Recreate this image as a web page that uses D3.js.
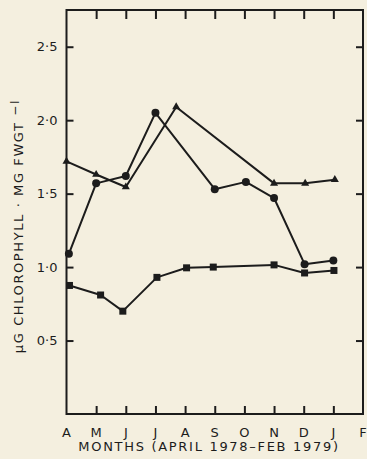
<!DOCTYPE html>
<html>
<head>
<meta charset="utf-8">
<script src="https://cdn.jsdelivr.net/npm/d3@7"></script>
<style>
  html, body { margin: 0; padding: 0; background: #f4efdf; }
  svg { display: block; }
  text { font-family: "DejaVu Sans", sans-serif; fill: #1c1c1c; }
</style>
</head>
<body>
<svg id="chart" width="367" height="459"></svg>
<script>
// Month tick labels, April 1978 through February 1979
const months = ["A", "M", "J", "J", "A", "S", "O", "N", "D", "J", "F"];
const yTicks = [0.5, 1.0, 1.5, 2.0, 2.5];

// Sampling positions (month index from April) and chlorophyll values
const circleX = [0.08, 1.0, 2.0, 3.0, 5.0, 6.05, 7.0, 8.03, 9.0];
const circleY = [1.09, 1.57, 1.62, 2.05, 1.53, 1.58, 1.47, 1.02, 1.045];

const triangleX = [0.0, 1.0, 2.0, 3.7, 7.0, 8.05, 9.05];
const triangleY = [1.72, 1.63, 1.545, 2.09, 1.57, 1.57, 1.595];

const squareX = [0.1, 1.15, 1.9, 3.05, 4.05, 4.95, 7.0, 8.03, 9.02];
const squareY = [0.875, 0.81, 0.70, 0.93, 0.995, 1.0, 1.015, 0.96, 0.977];

const svg = d3.select("#chart");
const ink = "#1c1c1c";
const plotLeft = 66.5, plotRight = 363, plotTop = 10, plotBottom = 414;

const x = d3.scaleLinear().domain([0, 10]).range([plotLeft, plotRight]);
const y = d3.scaleLinear().domain([0, 2.75]).range([plotBottom, plotTop]);

// Frame
svg.append("rect")
  .attr("x", plotLeft).attr("y", plotTop)
  .attr("width", plotRight - plotLeft).attr("height", plotBottom - plotTop)
  .attr("fill", "none").attr("stroke", ink).attr("stroke-width", 2);

const fmt = d => d3.format(".1f")(d).replace(".", "\u00b7");

// Left axis: inward ticks with labels
const leftAxis = svg.append("g")
  .attr("transform", `translate(${plotLeft},0)`)
  .call(d3.axisLeft(y).tickValues(yTicks).tickSize(-7).tickPadding(9).tickFormat(fmt));
// Right axis: inward ticks
const rightAxis = svg.append("g")
  .attr("transform", `translate(${plotRight},0)`)
  .call(d3.axisLeft(y).tickValues(yTicks).tickSize(7).tickFormat(""));
// Bottom axis: inward ticks
const bottomAxis = svg.append("g")
  .attr("transform", `translate(0,${plotBottom})`)
  .call(d3.axisTop(x).tickValues(d3.range(1, 10)).tickSize(8).tickFormat(""));
// Top axis: inward ticks
const topAxis = svg.append("g")
  .attr("transform", `translate(0,${plotTop})`)
  .call(d3.axisBottom(x).tickValues(d3.range(1, 10)).tickSize(9).tickFormat(""));

[leftAxis, rightAxis, bottomAxis, topAxis].forEach(g => {
  g.select(".domain").remove();
  g.selectAll(".tick line").attr("stroke", ink).attr("stroke-width", 2);
});
leftAxis.selectAll(".tick text")
  .attr("font-size", 13).attr("fill", ink).attr("font-family", "DejaVu Sans, sans-serif");

// Month labels
svg.append("g").selectAll("text")
  .data(months)
  .join("text")
  .attr("x", (d, i) => x(i))
  .attr("y", 437)
  .attr("text-anchor", "middle")
  .attr("font-size", 13)
  .text(d => d);

// Axis titles
svg.append("text")
  .attr("x", 209)
  .attr("y", 451)
  .attr("text-anchor", "middle")
  .attr("font-size", 13)
  .attr("letter-spacing", 1.7)
  .text("MONTHS (APRIL 1978\u2013FEB 1979)");

const yTitle = svg.append("text")
  .attr("transform", "translate(23,226) rotate(-90)")
  .attr("text-anchor", "middle")
  .attr("font-size", 13)
  .attr("letter-spacing", 1.6);
yTitle.append("tspan").text("\u03bcG CHLOROPHYLL \u00b7 MG FWGT ");
yTitle.append("tspan").attr("dy", -4).attr("font-size", 12).text("\u2212I");

// Series
const line = d3.line().x(d => x(d[0])).y(d => y(d[1]));
const zip = (a, b) => a.map((v, i) => [v, b[i]]);

const circles = zip(circleX, circleY);
const triangles = zip(triangleX, triangleY);
const squares = zip(squareX, squareY);

[circles, triangles, squares].forEach(pts => {
  svg.append("path").datum(pts)
    .attr("d", line)
    .attr("fill", "none").attr("stroke", ink).attr("stroke-width", 2)
    .attr("stroke-linejoin", "round");
});

svg.append("g").selectAll("circle")
  .data(circles).join("circle")
  .attr("cx", d => x(d[0])).attr("cy", d => y(d[1]))
  .attr("r", 4).attr("fill", ink);

const tri = d3.symbol().type(d3.symbolTriangle).size(28);
svg.append("g").selectAll("path")
  .data(triangles).join("path")
  .attr("transform", d => `translate(${x(d[0])},${y(d[1])})`)
  .attr("d", tri).attr("fill", ink);

svg.append("g").selectAll("rect")
  .data(squares).join("rect")
  .attr("x", d => x(d[0]) - 3.5).attr("y", d => y(d[1]) - 3.5)
  .attr("width", 7).attr("height", 7).attr("fill", ink);
</script>
</body>
</html>
